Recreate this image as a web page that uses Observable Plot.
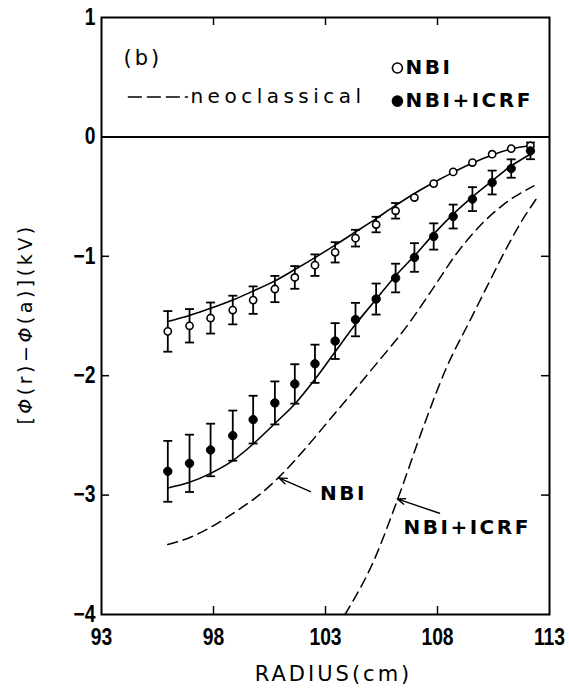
<!DOCTYPE html>
<html><head><meta charset="utf-8">
<script src="https://cdn.jsdelivr.net/npm/d3@7"></script>
<script src="https://cdn.jsdelivr.net/npm/@observablehq/plot@0.6"></script>
<style>body{margin:0;background:#fff}</style>
</head><body><div id="chart"></div>
<script>
// ---- data ----
const radius   = [95.96, 96.93, 97.87, 98.86, 99.77, 100.74, 101.63, 102.53, 103.43, 104.34, 105.26, 106.13, 106.97, 107.83, 108.70, 109.56, 110.44, 111.29, 112.15];
const nbi      = [-1.629,-1.582,-1.517,-1.450,-1.367,-1.274,-1.177,-1.074,-0.967,-0.848,-0.734,-0.619,-0.508,-0.391,-0.293,-0.215,-0.145,-0.098,-0.075];
const nbiErr   = [0.17,0.14,0.13,0.12,0.115,0.11,0.095,0.09,0.085,0.07,0.065,0.065,0,0,0,0,0,0,0];
const icrf     = [-2.801,-2.734,-2.622,-2.502,-2.368,-2.228,-2.069,-1.90,-1.71,-1.53,-1.358,-1.182,-1.010,-0.834,-0.667,-0.521,-0.382,-0.265,-0.117];
const icrfErr  = [0.255,0.24,0.22,0.21,0.20,0.18,0.165,0.16,0.15,0.14,0.13,0.12,0.12,0.11,0.10,0.10,0.10,0.077,0.07];
const nbiFit   = [-1.546,-1.496,-1.436,-1.366,-1.291,-1.206,-1.111,-1.011,-0.906,-0.796,-0.684,-0.574,-0.474,-0.382,-0.297,-0.219,-0.151,-0.101,-0.072];
const icrfFit  = [-2.94,-2.893,-2.818,-2.711,-2.572,-2.40,-2.237,-2.03,-1.80,-1.57,-1.36,-1.163,-0.996,-0.814,-0.647,-0.502,-0.368,-0.243,-0.145];
const neoNbiR  = [95.96,96.97,98.01,99.06,100.10,100.99,102.33,103.22,105.01,106.79,107.83,108.88,109.92,110.96,112.30];
const neoNbi   = [-3.414,-3.353,-3.255,-3.130,-2.990,-2.837,-2.56,-2.36,-1.96,-1.545,-1.26,-0.97,-0.74,-0.565,-0.410];
const neoIcrfR = [103.87,105.16,106.20,107.39,108.36,109.47,110.22,110.96,111.71,112.45];
const neoIcrf  = [-4.0,-3.548,-3.046,-2.418,-1.95,-1.53,-1.25,-0.975,-0.72,-0.508];
const xTicks = [93, 98, 103, 108, 113];
const yTicks = [1, 0, -1, -2, -3, -4];
const xInner = [98, 103, 108];
const yInner = [-1, -2, -3];
// annotations
const noteLabels = ["NBI", "NBI+ICRF"];
const noteTail   = [[102.33, -2.971], [108.09, -3.152]];
const noteHead   = [[100.92, -2.856], [106.20, -3.032]];
const noteText   = [[102.75, -2.99], [106.48, -3.268]];
const xLabel = "RADIUS(cm)";
const yLabel = "[Φ(r)−Φ(a)](kV)";
const panelTag = "(b)";
const legendNeo = "neoclassical";
const legendSeries = ["NBI", "NBI+ICRF"];

// ---- layout ----
const W = 569, H = 689, mL = 101, mR = 20, mT = 17, mB = 75;
const pW = W - mL - mR, pH = H - mT - mB;
const numFont = "'Liberation Sans',Arial,sans-serif";
const txtFont = "'DejaVu Sans',sans-serif";

const open = radius.map((x, i) => ({x, y: nbi[i], e: nbiErr[i]}));
const full = radius.map((x, i) => ({x, y: icrf[i], e: icrfErr[i]}));
const openE = open.filter(d => d.e > 0);
const fullE = full.filter(d => d.e > 0);
const fitA = radius.map((x, i) => ({x, y: nbiFit[i]}));
const fitB = radius.map((x, i) => ({x, y: icrfFit[i]}));
const neoA = neoNbiR.map((x, i) => ({x, y: neoNbi[i]}));
const neoB = neoIcrfR.map((x, i) => ({x, y: neoIcrf[i]}));
const notes = noteLabels.map((label, i) => ({label, x1: noteTail[i][0], y1: noteTail[i][1], x2: noteHead[i][0], y2: noteHead[i][1], tx: noteText[i][0], ty: noteText[i][1]}));
const legendPts = [{x: 106.21, y: 0.577, label: legendSeries[0], filled: false}, {x: 106.21, y: 0.30, label: legendSeries[1], filled: true}];
const fmt = d => d < 0 ? "\u2212" + (-d) : String(d);
const cap = {draw(ctx, size) { const r = Math.sqrt(size / Math.PI); ctx.moveTo(-r, 0); ctx.lineTo(r, 0); }};

const chart = Plot.plot({
  width: W, height: H,
  marginLeft: mL, marginRight: mR, marginTop: mT, marginBottom: mB,
  style: {fontFamily: txtFont, background: "white", color: "black"},
  x: {domain: [93, 113]},
  y: {domain: [-4, 1]},
  marks: [
    Plot.frame({strokeWidth: 2}),
    Plot.ruleY([0], {strokeWidth: 2}),
    Plot.tickX(xInner, {x: d => d, insetTop: pH - 8, strokeWidth: 1.5}),
    Plot.tickX(xInner, {x: d => d, insetBottom: pH - 8, strokeWidth: 1.5}),
    Plot.tickY(yInner, {y: d => d, insetRight: pW - 8, strokeWidth: 1.5}),
    Plot.tickY(yInner, {y: d => d, insetLeft: pW - 8, strokeWidth: 1.5}),
    Plot.axisX(xTicks, {tickSize: 0, tickPadding: 14, label: null, fontSize: 23, fontWeight: "bold", fontFamily: numFont}),
    Plot.axisY(yTicks, {tickSize: 0, tickPadding: 6, label: null, tickFormat: fmt, fontSize: 23, fontWeight: "bold", fontFamily: numFont}),
    // neoclassical
    Plot.line(neoA, {x: "x", y: "y", curve: "monotone-x", strokeWidth: 1.5, strokeDasharray: "10,6"}),
    Plot.line(neoB, {x: "x", y: "y", curve: "monotone-x", strokeWidth: 1.5, strokeDasharray: "10,6"}),
    // fits
    Plot.line(fitA, {x: "x", y: "y", curve: "monotone-x", strokeWidth: 1.6}),
    Plot.line(fitB, {x: "x", y: "y", curve: "monotone-x", strokeWidth: 1.6}),
    // error bars
    Plot.ruleX(openE, {x: "x", y1: d => d.y - d.e, y2: d => d.y + d.e, strokeWidth: 1.8}),
    Plot.dot(openE, {x: "x", y: d => d.y - d.e, symbol: cap, r: 4.5, stroke: "black", strokeWidth: 1.8, fill: "none"}),
    Plot.dot(openE, {x: "x", y: d => d.y + d.e, symbol: cap, r: 4.5, stroke: "black", strokeWidth: 1.8, fill: "none"}),
    Plot.ruleX(fullE, {x: "x", y1: d => d.y - d.e, y2: d => d.y + d.e, strokeWidth: 1.8}),
    Plot.dot(fullE, {x: "x", y: d => d.y - d.e, symbol: cap, r: 4.5, stroke: "black", strokeWidth: 1.8, fill: "none"}),
    Plot.dot(fullE, {x: "x", y: d => d.y + d.e, symbol: cap, r: 4.5, stroke: "black", strokeWidth: 1.8, fill: "none"}),
    // points
    Plot.dot(open, {x: "x", y: "y", r: 3.6, fill: "white", stroke: "black", strokeWidth: 1.6}),
    Plot.dot(full, {x: "x", y: "y", r: 4.2, fill: "black", stroke: "black", strokeWidth: 1}),
    // annotations
    Plot.arrow(notes, {x1: "x1", y1: "y1", x2: "x2", y2: "y2", headLength: 9, headAngle: 40, strokeWidth: 1.4}),
    Plot.text(notes, {x: "tx", y: "ty", text: "label", textAnchor: "start", fontSize: 20, fontWeight: "bold", fontFamily: txtFont}),
    // legend
    Plot.text([panelTag], {x: 93.98, y: 0.661, text: d => d, textAnchor: "start", fontSize: 21, fontFamily: txtFont}),
    Plot.line([{x: 94.2, y: 0.335}, {x: 96.84, y: 0.335}], {x: "x", y: "y", strokeWidth: 1.5, strokeDasharray: "13,6"}),
    Plot.text([legendNeo], {x: 96.97, y: 0.335, text: d => d, textAnchor: "start", fontSize: 20, fontFamily: txtFont}),
    Plot.dot(legendPts, {x: "x", y: "y", r: 5, fill: d => d.filled ? "black" : "white", stroke: "black", strokeWidth: 1.6}),
    Plot.text(legendPts, {x: d => d.x + 0.36, y: "y", text: "label", textAnchor: "start", fontSize: 20, fontWeight: "bold", fontFamily: txtFont}),
    // axis titles
    Plot.text([xLabel], {frameAnchor: "bottom", dy: 60, dx: 8, textAnchor: "middle", lineAnchor: "middle", text: d => d, fontSize: 21, fontFamily: txtFont}),
    Plot.text([yLabel], {frameAnchor: "left", dx: -76, dy: 8, textAnchor: "middle", lineAnchor: "middle", rotate: -90, text: d => d, fontSize: 19, fontFamily: txtFont})
  ]
});

// condensed tick numerals
d3.select(chart).selectAll('g[aria-label="x-axis tick label"] text, g[aria-label="y-axis tick label"] text').each(function() {
  const s = d3.select(this);
  let t = s.attr("transform");
  if (!t) {
    const x = +s.attr("x") || 0, y = +s.attr("y") || 0;
    s.attr("x", null).attr("y", null);
    t = `translate(${x},${y})`;
  }
  s.attr("transform", t + " scale(0.84,1)");
});
// letter spacing and italic Φ
d3.select(chart).selectAll("text").each(function() {
  const t = this.textContent;
  const s = d3.select(this);
  if (t === "neoclassical") s.attr("letter-spacing", 4.5);
  else if (t === "NBI" || t === "NBI+ICRF") s.attr("letter-spacing", 2.5);
  else if (t === "(b)") s.attr("letter-spacing", 3);
  else if (t === xLabel) s.attr("letter-spacing", 3);
  else if (t === yLabel) {
    s.attr("letter-spacing", 3.5).text(null);
    for (const part of yLabel.split(/(Φ)/)) {
      if (!part) continue;
      const ts = s.append("tspan").text(part);
      if (part === "Φ") ts.attr("font-style", "italic");
    }
  }
});
document.getElementById("chart").appendChild(chart);
</script>
</body></html>
